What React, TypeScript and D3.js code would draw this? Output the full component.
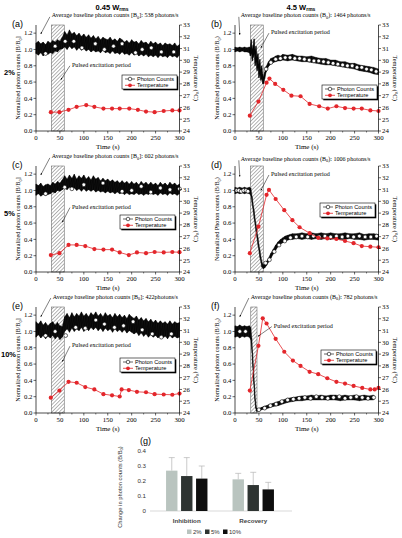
import React from 'react';
import * as d3 from 'd3';

// ---------- time grids ----------
const T5 = d3.range(0, 301, 5);

// ---------- (a) 2%, 0.45 Wrms ----------
const aHi = [1.08,1.10,1.07,1.09,1.06,1.10,1.08,1.11,1.09,1.12,1.10,1.15,1.22,1.18,1.24,1.19,1.21,1.17,1.20,1.16,1.19,1.15,1.18,1.14,1.17,1.13,1.16,1.12,1.15,1.13,1.12,1.15,1.11,1.13,1.10,1.14,1.12,1.09,1.11,1.08,1.12,1.09,1.10,1.07,1.11,1.08,1.09,1.06,1.10,1.07,1.09,1.06,1.08,1.05,1.08,1.06,1.07,1.05,1.08,1.04,1.06];
const aLo = [0.95,0.93,0.96,0.92,0.95,0.94,0.96,0.95,0.98,0.97,1.00,1.01,1.03,1.00,1.04,1.01,1.03,0.99,1.02,0.99,1.01,0.98,1.00,0.97,0.99,0.97,0.98,0.96,0.99,0.96,0.97,0.95,0.98,0.95,0.96,0.94,0.97,0.94,0.95,0.93,0.96,0.93,0.95,0.92,0.94,0.92,0.94,0.91,0.93,0.91,0.93,0.90,0.93,0.91,0.92,0.90,0.93,0.91,0.92,0.90,0.93];
const aCircT = [20,40,61,79,96,124,143,162,180,208,222,241,262,288];
const aCircV = [0.95,1.04,1.10,1.10,1.02,1.07,1.00,1.04,1.07,0.96,1.00,1.02,0.97,0.97];
const aTempT = [31,49,68,85,105,122,141,159,175,195,213,230,248,267,285,300];
const aTempV = [25.6,25.6,25.8,26.05,26.2,26.05,25.9,25.9,25.9,25.9,25.8,25.65,25.6,25.7,25.75,25.75];

// ---------- (b) 2%, 4.5 Wrms ----------
const bT = [0,5,10,15,20,25,30,32,34,36,38,40,42,44,46,48,50,52,54,56,58,60,62,65,70,75,80,85,90,95,100,110,120,130,140,150,160,170,180,190,200,210,220,230,240,250,260,270,280,290,300];
const bHi = [1.03,1.02,1.03,1.02,1.03,1.02,1.03,1.02,1.12,1.00,1.05,1.13,0.98,1.04,0.90,0.95,0.82,0.88,0.75,0.80,0.70,0.66,0.72,0.79,0.85,0.89,0.90,0.92,0.93,0.92,0.94,0.93,0.94,0.92,0.92,0.91,0.92,0.90,0.89,0.89,0.87,0.87,0.85,0.85,0.83,0.83,0.81,0.80,0.79,0.78,0.76];
const bLo = [0.97,0.98,0.97,0.98,0.97,0.97,0.96,0.92,0.95,0.86,0.90,0.94,0.80,0.85,0.74,0.78,0.65,0.70,0.62,0.64,0.58,0.58,0.64,0.72,0.79,0.82,0.84,0.85,0.86,0.86,0.87,0.86,0.87,0.86,0.85,0.85,0.84,0.83,0.82,0.81,0.81,0.80,0.79,0.78,0.77,0.76,0.74,0.73,0.72,0.70,0.69];
const bCircT = [65,75,85,95,105,115,125,135,145,155,165,175,185,195,205,215,225,235,245,255,265,275,285,295];
const bCircV = [0.76,0.84,0.88,0.89,0.90,0.90,0.89,0.89,0.88,0.87,0.86,0.86,0.85,0.84,0.83,0.82,0.81,0.80,0.80,0.78,0.78,0.76,0.75,0.73];
const bTempT = [31,49,66,72,84,101,118,137,156,176,194,212,230,248,265,283,300];
const bTempV = [25.3,26.5,28.1,28.45,28.0,27.5,27.0,26.95,26.3,26.1,25.9,26.1,25.95,25.9,25.9,25.75,25.7];

// ---------- (c) 5%, 0.45 Wrms ----------
const cHi = [1.08,1.06,1.09,1.05,1.07,1.08,1.06,1.10,1.08,1.11,1.09,1.13,1.18,1.14,1.19,1.15,1.20,1.14,1.18,1.15,1.19,1.14,1.17,1.13,1.18,1.14,1.16,1.12,1.15,1.12,1.14,1.11,1.13,1.10,1.12,1.09,1.12,1.09,1.11,1.08,1.11,1.08,1.10,1.07,1.11,1.08,1.10,1.07,1.10,1.07,1.09,1.06,1.10,1.07,1.09,1.06,1.10,1.07,1.09,1.06,1.08];
const cLo = [0.94,0.96,0.93,0.95,0.94,0.95,0.96,0.98,0.97,1.00,0.99,1.01,1.03,1.01,1.04,1.01,1.03,1.00,1.02,0.99,1.02,0.99,1.01,0.99,1.01,0.98,1.00,0.98,0.99,0.97,0.99,0.97,0.98,0.96,0.98,0.96,0.97,0.95,0.97,0.95,0.96,0.95,0.97,0.95,0.96,0.94,0.96,0.95,0.97,0.95,0.96,0.94,0.97,0.95,0.96,0.94,0.97,0.95,0.96,0.94,0.96];
const cCircT = [20,60,75,100,140,180,200,220,240,260,280,300];
const cCircV = [0.96,1.04,1.02,1.07,1.09,0.99,1.00,1.05,0.98,1.03,1.01,1.02];
const cTempT = [31,49,68,85,103,122,141,159,175,194,211,230,248,267,285,300];
const cTempV = [25.44,25.6,26.3,26.3,26.2,25.95,25.9,25.9,25.66,25.44,25.66,25.6,25.7,25.66,25.7,25.68];

// ---------- (d) 5%, 4.5 Wrms ----------
const dT = [0,5,10,15,20,25,30,33,36,40,44,48,52,56,59,62,66,70,75,80,85,90,95,100,105,110,115,120,130,140,150,160,170,180,190,200,210,220,230,240,250,260,270,280,290,300];
const dHi = [1.04,1.03,1.04,1.03,1.04,1.03,1.04,1.03,0.92,0.75,0.58,0.42,0.27,0.13,0.09,0.10,0.13,0.17,0.23,0.28,0.33,0.37,0.40,0.42,0.44,0.45,0.46,0.47,0.47,0.48,0.47,0.48,0.47,0.48,0.47,0.48,0.47,0.47,0.48,0.47,0.47,0.48,0.46,0.47,0.47,0.46];
const dLo = [0.96,0.97,0.96,0.97,0.96,0.97,0.96,0.94,0.83,0.66,0.49,0.33,0.18,0.06,0.04,0.05,0.08,0.12,0.17,0.22,0.27,0.31,0.34,0.36,0.38,0.39,0.40,0.40,0.41,0.40,0.41,0.40,0.41,0.40,0.41,0.40,0.41,0.40,0.40,0.41,0.40,0.40,0.39,0.40,0.40,0.39];
const dCircT = [3,8,13,18,23,27,64,72,82,92,104,116,128,140,152,164,176,188,200,212,224,236,248,260,272,284,296];
const dCircV = [1.0,1.0,0.99,1.0,1.0,0.99,0.11,0.15,0.25,0.33,0.38,0.42,0.43,0.44,0.43,0.44,0.43,0.44,0.43,0.44,0.43,0.44,0.43,0.44,0.43,0.43,0.44];
const dTempT = [31,49,66,71,85,103,120,135,156,174,193,212,230,248,265,283,300];
const dTempV = [25.6,27.85,30.55,30.97,30.2,29.25,28.4,27.8,27.3,26.9,26.85,26.8,26.63,26.45,26.2,26.15,26.1];

// ---------- (e) 10%, 0.45 Wrms ----------
const eHi = [1.12,1.09,1.13,1.08,1.11,1.07,1.10,1.12,1.08,1.11,1.07,1.06,1.18,1.22,1.17,1.23,1.18,1.22,1.19,1.24,1.19,1.22,1.18,1.23,1.20,1.24,1.19,1.22,1.18,1.23,1.19,1.21,1.17,1.22,1.18,1.21,1.17,1.20,1.16,1.21,1.18,1.16,1.19,1.14,1.17,1.13,1.16,1.12,1.15,1.11,1.14,1.10,1.13,1.10,1.12,1.09,1.13,1.09,1.12,1.10,1.11];
const eLo = [0.93,0.96,0.92,0.95,0.91,0.94,0.92,0.95,0.91,0.94,0.90,0.93,1.00,1.03,0.99,1.04,1.00,1.03,1.01,1.05,1.00,1.04,1.01,1.05,1.02,1.05,1.01,1.04,1.00,1.04,1.01,1.03,0.99,1.03,1.00,1.02,0.99,1.02,0.98,1.01,0.99,0.97,0.99,0.95,0.98,0.94,0.97,0.93,0.96,0.93,0.95,0.92,0.95,0.92,0.94,0.91,0.95,0.92,0.94,0.92,0.93];
const eCircT = [20,40,62,83,103,125,143,164,183,203,222,243,262,283];
const eCircV = [0.95,1.00,0.95,1.05,1.04,1.14,1.09,1.05,1.07,1.12,1.02,0.97,0.93,0.97];
const eTempT = [31,49,68,85,103,122,141,159,175,179,194,211,230,248,267,285,300];
const eTempV = [25.3,25.9,26.65,26.57,26.2,26.0,25.6,25.5,25.4,26.0,25.95,25.8,25.76,25.6,25.57,25.55,25.65];

// ---------- (f) 10%, 4.5 Wrms ----------
const fT = [0,5,10,15,20,25,30,33,35,37,39,41,43,45,48,52,56,60,65,70,80,90,100,110,120,130,140,150,160,170,180,190,200,210,220,230,240,250,260,270,280,290];
const fHi = [1.07,1.06,1.08,1.06,1.07,1.06,1.07,1.05,0.92,0.72,0.52,0.32,0.14,0.06,0.05,0.06,0.07,0.08,0.09,0.10,0.12,0.14,0.16,0.18,0.19,0.20,0.21,0.21,0.22,0.21,0.22,0.21,0.22,0.22,0.21,0.22,0.21,0.22,0.21,0.22,0.21,0.22];
const fLo = [0.93,0.94,0.92,0.94,0.93,0.94,0.93,0.90,0.78,0.58,0.38,0.18,0.06,0.02,0.02,0.03,0.04,0.05,0.05,0.06,0.08,0.09,0.11,0.13,0.14,0.15,0.15,0.16,0.16,0.16,0.16,0.16,0.16,0.16,0.15,0.16,0.16,0.16,0.15,0.16,0.16,0.16];
const fCircT = [10,22,50,62,74,86,98,110,122,134,146,158,170,182,194,206,218,230,242,254,266,278,290];
const fCircV = [1.0,1.0,0.04,0.06,0.09,0.11,0.14,0.16,0.17,0.18,0.19,0.18,0.20,0.19,0.18,0.19,0.20,0.18,0.19,0.20,0.19,0.18,0.19];
const fTempT = [31,49,58,66,85,103,121,137,156,174,193,212,230,248,266,283,292,300];
const fTempV = [25.9,29.7,32.04,31.6,30.3,29.2,28.45,28.0,27.5,27.3,26.95,26.65,26.5,26.3,26.13,26.0,26.0,26.13];

// ---------- ticks ----------
const xTicks = [0, 50, 100, 150, 200, 250, 300];
const yLTicks = [0, 0.2, 0.4, 0.6, 0.8, 1.0, 1.2];
const yRTicks = [24, 25, 26, 27, 28, 29, 30, 31, 32, 33];

// ---------- (g) bar chart ----------
const gCats = ['Inhibition', 'Recovery'];
const gSeries = ['2%', '5%', '10%'];
const gValues = [[0.269, 0.233, 0.216], [0.211, 0.173, 0.144]];
const gErr = [[0.087, 0.123, 0.084], [0.040, 0.085, 0.047]];
const gTicks = [0, 0.1, 0.2, 0.3, 0.4];
const gColors = ['#b9c4bf', '#2e3432', '#0e0e0e'];

const RED = '#e3262b';
const SERIF = "'Liberation Serif', 'DejaVu Serif', serif";
const SANS = "'Liberation Sans', Arial, sans-serif";

type P = {
  letter: string; x0: number; bottom: number;
  t: number[]; hi: number[]; lo: number[];
  circT: number[]; circV: number[];
  tempT: number[]; tempV: number[];
  hatch: [number, number];
  baseCount: string; bracket: [string, string];
  baseTail: [number, number]; baseTip: [number, number];
  pulseTail: [number, number]; pulseTip: [number, number];
  legend: [number, number];
  yLabelWord: string;
};

const W = 143.5, H = 106;

const panels: P[] = [
  { letter: '(a)', x0: 36, bottom: 131, t: T5, hi: aHi, lo: aLo, circT: aCircT, circV: aCircV, tempT: aTempT, tempV: aTempV,
    hatch: [32, 59], baseCount: ': 538 photons/s', bracket: ['[', ']'], baseTail: [29, 1.40], baseTip: [10, 1.19],
    pulseTail: [71, 0.80], pulseTip: [52, 0.63], legend: [86, 56], yLabelWord: 'photon' },
  { letter: '(b)', x0: 235, bottom: 131, t: bT, hi: bHi, lo: bLo, circT: bCircT, circV: bCircV, tempT: bTempT, tempV: bTempV,
    hatch: [32, 59], baseCount: ': 1464 photons/s', bracket: ['(', ')'], baseTail: [8, 1.40], baseTip: [10, 1.18],
    pulseTail: [71, 1.20], pulseTip: [54, 1.02], legend: [87, 46], yLabelWord: 'photon' },
  { letter: '(c)', x0: 36, bottom: 272, t: T5, hi: cHi, lo: cLo, circT: cCircT, circV: cCircV, tempT: cTempT, tempV: cTempV,
    hatch: [32, 59], baseCount: ': 602 photons/s', bracket: ['[', ']'], baseTail: [29, 1.40], baseTip: [10, 1.19],
    pulseTail: [71, 0.79], pulseTip: [55, 0.61], legend: [84, 57], yLabelWord: 'photon' },
  { letter: '(d)', x0: 235, bottom: 272, t: dT, hi: dHi, lo: dLo, circT: dCircT, circV: dCircV, tempT: dTempT, tempV: dTempV,
    hatch: [32, 59], baseCount: ': 1006 photons/s', bracket: ['(', ')'], baseTail: [8, 1.37], baseTip: [10, 1.17],
    pulseTail: [71, 1.19], pulseTip: [54, 1.00], legend: [85, 69], yLabelWord: 'Photon' },
  { letter: '(e)', x0: 36, bottom: 413, t: T5, hi: eHi, lo: eLo, circT: eCircT, circV: eCircV, tempT: eTempT, tempV: eTempV,
    hatch: [32, 59], baseCount: ': 422photons/s', bracket: ['[', ']'], baseTail: [31, 1.41], baseTip: [10, 1.18],
    pulseTail: [71, 0.82], pulseTip: [55, 0.63], legend: [84, 55], yLabelWord: 'photon' },
  { letter: '(f)', x0: 235, bottom: 413, t: fT, hi: fHi, lo: fLo, circT: fCircT, circV: fCircV, tempT: fTempT, tempV: fTempV,
    hatch: [33, 46], baseCount: ': 782 photons/s', bracket: ['(', ')'], baseTail: [29, 1.41], baseTip: [10, 1.18],
    pulseTail: [77, 1.06], pulseTip: [48, 0.94], legend: [86, 63], yLabelWord: 'photon' },
];

function Panel({ p }: { p: P }) {
  const x = d3.scaleLinear().domain([0, 300]).range([p.x0, p.x0 + W]);
  const yL = d3.scaleLinear().domain([0, 1.3]).range([p.bottom, p.bottom - H]);
  const yR = d3.scaleLinear().domain([24, 33]).range([p.bottom, p.bottom - H]);
  const idx = p.t.map((_, i) => i);
  const area = d3.area<number>().x(i => x(p.t[i])).y0(i => yL(p.lo[i])).y1(i => yL(p.hi[i]));
  const zig: [number, number][] = [];
  idx.forEach(i => { zig.push([x(p.t[i]), yL(p.hi[i])]); zig.push([x(p.t[i]), yL(p.lo[i])]); });
  const tIdx = p.tempT.map((_, i) => i);
  const tline = d3.line<number>().x(i => x(p.tempT[i])).y(i => yR(p.tempV[i]));
  const top = p.bottom - H;
  const x1 = p.x0 + W;
  const lgx = p.x0 + p.legend[0], lgy = p.bottom - p.legend[1];
  const bt = [x(p.baseTail[0]), yL(p.baseTail[1])], bp = [x(p.baseTip[0]), yL(p.baseTip[1])];
  const pt = [x(p.pulseTail[0]), yL(p.pulseTail[1])], pp = [x(p.pulseTip[0]), yL(p.pulseTip[1])];
  return (
    <g>
      {/* hatch */}
      <rect x={x(p.hatch[0])} y={top} width={x(p.hatch[1]) - x(p.hatch[0])} height={H}
        fill="url(#hatch)" stroke="#555" strokeWidth={0.5} />
      {/* photon band */}
      <path d={area(idx) || ''} fill="#111" stroke="#000" strokeWidth={0.4} />
      <path d={d3.line()(zig) || ''} fill="none" stroke="#000" strokeWidth={0.5} />
      {p.circT.map((t, i) => (
        <circle key={'c' + i} cx={x(t)} cy={yL(p.circV[i])} r={1.9} fill="#fff" stroke="#000" strokeWidth={0.6} />
      ))}
      {/* temperature */}
      <path d={tline(tIdx) || ''} fill="none" stroke={RED} strokeWidth={0.8} />
      {p.tempT.map((t, i) => (
        <circle key={'t' + i} cx={x(t)} cy={yR(p.tempV[i])} r={2.1} fill={RED} />
      ))}
      {/* axes */}
      <line x1={p.x0} x2={x1} y1={p.bottom} y2={p.bottom} stroke="#000" strokeWidth={0.7} />
      <line x1={p.x0} x2={p.x0} y1={top} y2={p.bottom} stroke="#000" strokeWidth={0.7} />
      <line x1={x1} x2={x1} y1={top} y2={p.bottom} stroke="#000" strokeWidth={0.7} />
      {xTicks.map(t => (
        <g key={'xt' + t}>
          <line x1={x(t)} x2={x(t)} y1={p.bottom} y2={p.bottom + 2.5} stroke="#000" strokeWidth={0.6} />
          <text x={x(t)} y={p.bottom + 8.5} fontSize={6.8} fontFamily={SERIF} textAnchor="middle">{t}</text>
        </g>
      ))}
      {xTicks.slice(0, -1).map(t => (
        <line key={'xm' + t} x1={x(t + 25)} x2={x(t + 25)} y1={p.bottom} y2={p.bottom + 1.5} stroke="#000" strokeWidth={0.5} />
      ))}
      {yLTicks.map(v => (
        <g key={'yl' + v}>
          <line x1={p.x0 - 2.5} x2={p.x0} y1={yL(v)} y2={yL(v)} stroke="#000" strokeWidth={0.6} />
          <text x={p.x0 - 3.5} y={yL(v) + 2.3} fontSize={6.8} fontFamily={SERIF} textAnchor="end">{d3.format('.1f')(v)}</text>
        </g>
      ))}
      {yRTicks.map(v => (
        <g key={'yr' + v}>
          <line x1={x1} x2={x1 + 2.5} y1={yR(v)} y2={yR(v)} stroke="#000" strokeWidth={0.6} />
          <text x={x1 + 3.5} y={yR(v) + 2.3} fontSize={6.8} fontFamily={SERIF}>{v}</text>
        </g>
      ))}
      <text x={p.x0 + W / 2} y={p.bottom + 18} fontSize={7} fontFamily={SERIF} textAnchor="middle">Time (s)</text>
      <text transform={`translate(${p.x0 - 16},${p.bottom - H / 2}) rotate(-90)`} fontSize={6.2} fontFamily={SERIF} textAnchor="middle">
        {`Normalized ${p.yLabelWord} counts ${p.bracket[0]}B/B`}<tspan fontSize={4.5} dy={1.5}>0</tspan><tspan dy={-1.5}>{p.bracket[1]}</tspan>
      </text>
      <text transform={`translate(${x1 + 14},${p.bottom - H / 2}) rotate(90)`} fontSize={6.5} fontFamily={SERIF} textAnchor="middle">Temperature (°C)</text>
      {/* panel letter */}
      <text x={p.x0 - 24} y={top + 2} fontSize={9} fontFamily={SANS}>{p.letter}</text>
      {/* annotations */}
      <line x1={bt[0]} y1={bt[1]} x2={bp[0]} y2={bp[1]} stroke="#000" strokeWidth={0.5} markerEnd="url(#arr)" />
      <text x={bt[0] + 2} y={bt[1] + 0.5} fontSize={6.1} fontFamily={SERIF}>
        {`Average baseline photon counts ${p.bracket[0]}B`}<tspan fontSize={4.3} dy={1.4}>0</tspan><tspan dy={-1.4}>{p.bracket[1] + p.baseCount}</tspan>
      </text>
      <line x1={pt[0]} y1={pt[1]} x2={pp[0]} y2={pp[1]} stroke="#000" strokeWidth={0.5} markerEnd="url(#arr)" />
      <text x={pt[0] + 2} y={pt[1] + 1} fontSize={6.1} fontFamily={SERIF}>Pulsed excitation period</text>
      {/* legend */}
      <rect x={lgx + 1.3} y={lgy + 1.3} width={55} height={14} fill="#000" />
      <rect x={lgx} y={lgy} width={55} height={14} fill="#fff" stroke="#000" strokeWidth={0.6} />
      <line x1={lgx + 3} x2={lgx + 13} y1={lgy + 4} y2={lgy + 4} stroke="#000" strokeWidth={0.6} />
      <circle cx={lgx + 8} cy={lgy + 4} r={1.8} fill="#fff" stroke="#000" strokeWidth={0.6} />
      <text x={lgx + 15} y={lgy + 6} fontSize={5.6} fontFamily={SANS}>Photon Counts</text>
      <line x1={lgx + 3} x2={lgx + 13} y1={lgy + 10.3} y2={lgy + 10.3} stroke={RED} strokeWidth={0.8} />
      <circle cx={lgx + 8} cy={lgy + 10.3} r={1.9} fill={RED} />
      <text x={lgx + 15} y={lgy + 12.3} fontSize={5.6} fontFamily={SANS}>Temperature</text>
    </g>
  );
}

function BarPanel() {
  const y = d3.scaleLinear().domain([0, 0.4]).range([511, 451]);
  const xc = d3.scalePoint<string>().domain(gCats).range([148, 292]).padding(0.583);
  const xs = d3.scaleBand<string>().domain(gSeries).range([-22.5, 22.5]).paddingInner(0.24).paddingOuter(0.12);
  return (
    <g>
      <text x={140} y={444} fontSize={9} fontFamily={SANS}>(g)</text>
      {gTicks.map(v => (
        <text key={'gt' + v} x={146} y={y(v) + 2.2} fontSize={6.2} fontFamily={SANS} textAnchor="end" fill="#333">{v === 0 ? '0' : d3.format('.1f')(v)}</text>
      ))}
      <line x1={150} x2={292} y1={y(0)} y2={y(0)} stroke="#c8c8c8" strokeWidth={0.7} />
      {gCats.map((c, ci) => (
        <g key={c}>
          {gSeries.map((s, si) => {
            const cx = (xc(c) as number) + (xs(s) as number) + xs.bandwidth() / 2;
            const v = gValues[ci][si], e = gErr[ci][si];
            return (
              <g key={s}>
                <line x1={cx} x2={cx} y1={y(v)} y2={y(v + e)} stroke="#b5b5b5" strokeWidth={0.7} />
                <line x1={cx - 3} x2={cx + 3} y1={y(v + e)} y2={y(v + e)} stroke="#b5b5b5" strokeWidth={0.7} />
                <rect x={(xc(c) as number) + (xs(s) as number)} y={y(v)} width={xs.bandwidth()} height={y(0) - y(v)} fill={gColors[si]} />
              </g>
            );
          })}
          <text x={xc(c) as number} y={523} fontSize={6.2} fontFamily={SANS} fontWeight="bold" fill="#444" textAnchor="middle">{c}</text>
        </g>
      ))}
      <text transform="translate(122,487) rotate(-90)" fontSize={5.8} fontFamily={SANS} textAnchor="middle" fill="#333">
        {'Change in photon counts (B/B'}<tspan fontSize={4.2} dy={1.3}>0</tspan><tspan dy={-1.3}>)</tspan>
      </text>
      {gSeries.map((s, si) => {
        const lx = 187 + si * 18;
        return (
          <g key={'lg' + s}>
            <rect x={lx} y={529.5} width={4.5} height={4.5} fill={gColors[si]} />
            <text x={lx + 6} y={534} fontSize={6} fontFamily={SANS} fill="#333">{s}</text>
          </g>
        );
      })}
    </g>
  );
}

export default function App() {
  return (
    <svg width={402} height={538} viewBox="0 0 402 538" style={{ position: 'absolute', left: 0, top: 0, background: '#fff' }}>
      <defs>
        <pattern id="hatch" width={2.6} height={2.6} patternUnits="userSpaceOnUse" patternTransform="rotate(45)">
          <rect width={2.6} height={2.6} fill="#fff" />
          <line x1={0} y1={0} x2={0} y2={2.6} stroke="#444" strokeWidth={0.8} />
        </pattern>
        <marker id="arr" viewBox="0 0 10 10" refX={9} refY={5} markerWidth={4} markerHeight={4} orient="auto">
          <path d="M0,1 L10,5 L0,9 z" fill="#000" />
        </marker>
      </defs>
      <text x={112} y={9.5} fontSize={7.5} fontFamily={SANS} fontWeight="bold" textAnchor="middle">
        0.45 W<tspan fontSize={5} dy={1.5}>rms</tspan>
      </text>
      <text x={301} y={9.5} fontSize={7.5} fontFamily={SANS} fontWeight="bold" textAnchor="middle">
        4.5 W<tspan fontSize={5} dy={1.5}>rms</tspan>
      </text>
      <text x={4} y={75} fontSize={7.5} fontFamily={SANS} fontWeight="bold">2%</text>
      <text x={4} y={216} fontSize={7.5} fontFamily={SANS} fontWeight="bold">5%</text>
      <text x={1} y={357} fontSize={7.5} fontFamily={SANS} fontWeight="bold">10%</text>
      {panels.map(p => <Panel key={p.letter} p={p} />)}
      <BarPanel />
    </svg>
  );
}
